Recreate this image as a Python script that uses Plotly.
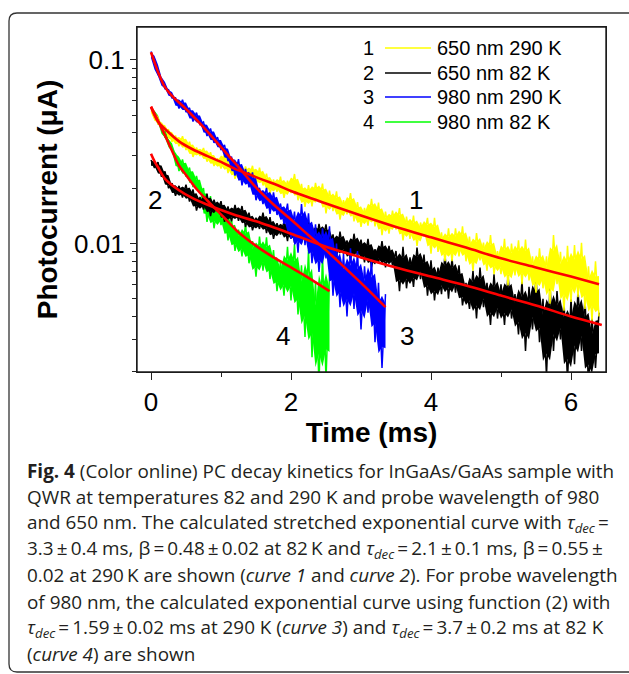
import numpy as np
import plotly.graph_objects as go

# ---------------- data ----------------
DT = 0.05

names = ["650 nm 290 K", "650 nm 82 K", "980 nm 290 K", "980 nm 82 K"]
numbers = ["1", "2", "3", "4"]
colors = ["#FFFF00", "#000000", "#0000FF", "#00FF00"]

pc_650_290 = [0.053, 0.0511, 0.0448, 0.0452, 0.0413, 0.0417, 0.0357, 0.0387, 0.0338, 0.0384, 0.0323, 0.0358, 0.0296, 0.0333, 0.0300, 0.0331, 0.0279, 0.0314, 0.0264, 0.0291,
              0.0256, 0.0312, 0.0242, 0.0290, 0.0225, 0.0269, 0.0215, 0.0263, 0.0228, 0.0265, 0.0206, 0.0259, 0.0207, 0.0240, 0.0187, 0.0223, 0.0191, 0.0231, 0.0177, 0.0220,
              0.0188, 0.0239, 0.0172, 0.0211, 0.0158, 0.0208, 0.0159, 0.0214, 0.0168, 0.0212, 0.0146, 0.0194, 0.0150, 0.0192, 0.0135, 0.0172, 0.0144, 0.0188, 0.0132, 0.0168,
              0.0123, 0.0156, 0.0125, 0.0175, 0.0124, 0.0167, 0.0111, 0.0149, 0.0113, 0.0151, 0.0119, 0.0156, 0.0104, 0.0140, 0.0106, 0.0142, 0.0097, 0.0130, 0.0109, 0.0138,
              0.0088, 0.0138, 0.0090, 0.0115, 0.0080, 0.0121, 0.0080, 0.0121, 0.0085, 0.0124, 0.0080, 0.0109, 0.0071, 0.0114, 0.0081, 0.0101, 0.0071, 0.0111, 0.0068, 0.0091,
              0.0068, 0.0106, 0.0059, 0.0100, 0.0067, 0.0104, 0.0060, 0.0105, 0.0063, 0.0085, 0.0054, 0.0094, 0.0057, 0.0085, 0.0047, 0.0111, 0.0060, 0.0090, 0.0043, 0.0097,
              0.0048, 0.0098, 0.0051, 0.0101, 0.0044, 0.0075, 0.0038, 0.0080, 0.0040]

pc_650_82 = [0.0285, 0.0258, 0.0277, 0.0231, 0.0247, 0.0200, 0.0213, 0.0182, 0.0206, 0.0178, 0.0209, 0.0169, 0.0197, 0.0151, 0.0179, 0.0153, 0.0187, 0.0141, 0.0173, 0.0149,
             0.0170, 0.0131, 0.0159, 0.0132, 0.0162, 0.0133, 0.0160, 0.0123, 0.0147, 0.0118, 0.0138, 0.0120, 0.0147, 0.0114, 0.0139, 0.0106, 0.0129, 0.0112, 0.0131, 0.0103,
             0.0141, 0.0101, 0.0129, 0.0100, 0.0140, 0.0104, 0.0126, 0.0096, 0.0128, 0.0102, 0.0127, 0.0092, 0.0112, 0.0084, 0.0116, 0.0088, 0.0104, 0.0081, 0.0113, 0.0085,
             0.0105, 0.0079, 0.0106, 0.0074, 0.0093, 0.0078, 0.0103, 0.0074, 0.0097, 0.0076, 0.0091, 0.0055, 0.0096, 0.0057, 0.0084, 0.0058, 0.0095, 0.0064, 0.0087, 0.0052,
             0.0081, 0.0049, 0.0074, 0.0053, 0.0087, 0.0050, 0.0083, 0.0054, 0.0076, 0.0046, 0.0061, 0.0044, 0.0071, 0.0039, 0.0074, 0.0045, 0.0061, 0.0036, 0.0068, 0.0039,
             0.0060, 0.0036, 0.0067, 0.0039, 0.0053, 0.0032, 0.0063, 0.0026, 0.0058, 0.0034, 0.0066, 0.0029, 0.0050, 0.0019, 0.0059, 0.0026, 0.0055, 0.0030, 0.0048, 0.0018,
             0.0050, 0.0022, 0.0056, 0.0026, 0.0050, 0.0017, 0.0039, 0.0021, 0.0042]

pc_980_290 = [0.111, 0.0993, 0.0833, 0.0783, 0.0695, 0.0688, 0.0620, 0.0621, 0.0543, 0.0606, 0.0519, 0.0548, 0.0462, 0.0516, 0.0445, 0.0459, 0.0385, 0.0423, 0.0353, 0.0379,
              0.0323, 0.0344, 0.0281, 0.0297, 0.0234, 0.0288, 0.0207, 0.0255, 0.0202, 0.0244, 0.0172, 0.0201, 0.0164, 0.0201, 0.0145, 0.0190, 0.0143, 0.0165, 0.0128, 0.0165,
              0.0106, 0.0149, 0.0089, 0.0164, 0.0098, 0.0146, 0.0078, 0.0127, 0.0070, 0.0121, 0.0083, 0.0124, 0.0052, 0.0100, 0.0045, 0.0088, 0.0040, 0.0094, 0.0044, 0.0091,
              0.0034, 0.0075, 0.0042, 0.0082, 0.0029, 0.0061, 0.0021, 0.0053]

pc_980_82 = [0.0545, 0.0520, 0.0449, 0.0448, 0.0379, 0.0365, 0.0322, 0.0309, 0.0248, 0.0287, 0.0231, 0.0259, 0.0203, 0.0233, 0.0189, 0.0200, 0.0131, 0.0181, 0.0121, 0.0159,
             0.0126, 0.0158, 0.0104, 0.0136, 0.0091, 0.0119, 0.0085, 0.0128, 0.0078, 0.0103, 0.0066, 0.0109, 0.0071, 0.0108, 0.0064, 0.0092, 0.0055, 0.0080, 0.0052, 0.0096,
             0.0049, 0.0099, 0.0041, 0.0076, 0.0031, 0.0092, 0.0024, 0.0062, 0.0017, 0.0088, 0.0018, 0.0068]

# fitted curves (red)
fit1_t = [0, 0.05, 0.1, 0.2, 0.4, 0.6, 0.8, 1.0, 1.2, 1.4, 1.6, 1.8, 2.0, 2.5, 3.0, 3.5, 4.0, 4.5, 5.0, 5.5, 6.0, 6.4]
fit1_v = [0.0556, 0.050, 0.046, 0.042, 0.036, 0.0325, 0.030, 0.0278, 0.0255, 0.0238, 0.0222, 0.0208, 0.0193, 0.0165, 0.0142, 0.0123, 0.0108, 0.0095, 0.0083, 0.0074, 0.0066, 0.0060]
fit2_t = [0, 0.05, 0.1, 0.2, 0.4, 0.6, 0.8, 1.0, 1.2, 1.5, 2.0, 2.5, 3.0, 3.5, 4.0, 4.5, 5.0, 5.5, 6.0, 6.44]
fit2_v = [0.0308, 0.028, 0.026, 0.0225, 0.0195, 0.0176, 0.0163, 0.0152, 0.0143, 0.0132, 0.0113, 0.0096, 0.0084, 0.0074, 0.0066, 0.0059, 0.0052, 0.0046, 0.0040, 0.0036]
fit3_t = [0, 0.05, 0.1, 0.2, 0.3, 0.5, 0.75, 1.0, 1.25, 1.5, 1.75, 2.0, 2.25, 2.5, 2.75, 3.0, 3.35]
fit3_v = [0.110, 0.097, 0.086, 0.071, 0.0637, 0.054, 0.0430, 0.0335, 0.0261, 0.0202, 0.0163, 0.0135, 0.0111, 0.0092, 0.0075, 0.0061, 0.0045]
fit4_t = [0, 0.1, 0.2, 0.3, 0.4, 0.5, 0.65, 0.8, 1.0, 1.25, 1.5, 1.75, 2.0, 2.25, 2.55]
fit4_v = [0.0556, 0.0466, 0.0388, 0.032, 0.0266, 0.0236, 0.0198, 0.0172, 0.0144, 0.0115, 0.0097, 0.0084, 0.0074, 0.0065, 0.0055]

# curve-number labels inside the plot (time, photocurrent)
label_t = [3.79, 0.06, 3.66, 1.89]
label_v = [0.0173, 0.0172, 0.00313, 0.00313]

caption_lines = [
    "<b>Fig. 4</b> (Color online) PC decay kinetics for InGaAs/GaAs sample with",
    "QWR at temperatures 82 and 290 K and probe wavelength of 980",
    "and 650 nm. The calculated stretched exponential curve with <i>τ<sub>dec</sub></i>\u2009=",
    "3.3\u2009±\u20090.4 ms, β\u2009=\u20090.48\u2009±\u20090.02 at 82\u2009K and <i>τ<sub>dec</sub></i>\u2009=\u20092.1\u2009±\u20090.1 ms, β\u2009=\u20090.55\u2009±",
    "0.02 at 290\u2009K are shown (<i>curve 1</i> and <i>curve 2</i>). For probe wavelength",
    "of 980 nm, the calculated exponential curve using function (2) with",
    "<i>τ<sub>dec</sub></i>\u2009=\u20091.59\u2009±\u20090.02 ms at 290 K (<i>curve 3</i>) and <i>τ<sub>dec</sub></i>\u2009=\u20093.7\u2009±\u20090.2 ms at 82 K",
    "(<i>curve 4</i>) are shown",
]

# ---------------- layout geometry ----------------
W, H = 629, 674
ML, MR, MT, MB = 137, 23, 27, 302
PW, PH = W - ML - MR, H - MT - MB


def px(x):
    return (x - ML) / PW


def py(y):
    return (H - MB - y) / PH


ARIAL = "Liberation Sans, Arial, sans-serif"
fig = go.Figure()


def noise_core(t, v, frac=0.6):
    """Solid core of a noisy trace: band around the local (3-point) geometric mean,
    covering `frac` of the local peak-to-trough spread (in log space)."""
    lv = np.log10(np.asarray(v))
    p = np.r_[lv[0], lv, lv[-1]]
    win = np.vstack([p[:-2], p[1:-1], p[2:]])
    c = win.mean(axis=0)
    hi = c + frac * (win.max(axis=0) - c)
    lo = c + frac * (win.min(axis=0) - c)
    bx = np.r_[t, t[::-1]]
    by = 10 ** np.r_[hi, lo[::-1]]
    return bx, by


series = [pc_650_290, pc_650_82, pc_980_290, pc_980_82]
draw_order = [3, 1, 0, 2]
for i in draw_order:
    vals = series[i]
    t = np.round(np.arange(len(vals)) * DT, 2)
    bx, by = noise_core(t, vals)
    fig.add_trace(go.Scatter(x=bx, y=by, mode="lines", fill="toself", fillcolor=colors[i],
                             line=dict(color=colors[i], width=0), showlegend=False, hoverinfo="skip"))
    fig.add_trace(go.Scatter(x=t, y=vals, mode="lines", name=names[i],
                             line=dict(color=colors[i], width=1.5), showlegend=False))

for ft, fv in [(fit1_t, fit1_v), (fit2_t, fit2_v), (fit3_t, fit3_v), (fit4_t, fit4_v)]:
    fig.add_trace(go.Scatter(x=ft, y=fv, mode="lines", line=dict(color="#FF0000", width=2.6, shape="spline", smoothing=0.8),
                             showlegend=False, hoverinfo="skip"))

annotations = []
for n, tt, vv in zip(numbers, label_t, label_v):
    annotations.append(dict(x=tt, y=np.log10(vv), xref="x", yref="y", text=n, showarrow=False,
                            font=dict(family=ARIAL, size=26, color="black")))

# manual legend: number, line sample, label
shapes = []
leg_rows = [48, 73, 97, 122]
for n, name, c, ry in zip(numbers, names, colors, leg_rows):
    annotations.append(dict(x=px(368), y=py(ry), xref="paper", yref="paper", text=n, showarrow=False,
                            xanchor="center", yanchor="middle", font=dict(family=ARIAL, size=20, color="black")))
    shapes.append(dict(type="line", xref="paper", yref="paper", x0=px(385), x1=px(431), y0=py(ry), y1=py(ry),
                       line=dict(color=c, width=1.6)))
    annotations.append(dict(x=px(435), y=py(ry), xref="paper", yref="paper", text=name, showarrow=False,
                            xanchor="left", yanchor="middle", font=dict(family=ARIAL, size=20, color="black")))

# caption
for k, line in enumerate(caption_lines):
    base = 477 + k * 26.1
    annotations.append(dict(x=px(25), y=py(base - 6), xref="paper", yref="paper", text=line, showarrow=False,
                            xanchor="left", yanchor="middle", align="left",
                            font=dict(family="Open Sans, sans-serif", size=18.9, color="#231f20")))

# plot frame (four sides)
for x0, y0, x1, y1 in [(0, 1, 1, 1), (1, 0, 1, 1), (0, 0, 1, 0), (0, 0, 0, 1)]:
    shapes.append(dict(type="line", xref="paper", yref="paper", x0=x0, y0=y0, x1=x1, y1=y1,
                       line=dict(color="#1a1a1a", width=1.4), layer="above"))

# outer rounded frame
L, T, R, B, r = 9, 13, 660, 672, 8
path = (f"M {px(R)} {py(T)} L {px(L + r)} {py(T)} Q {px(L)} {py(T)} {px(L)} {py(T + r)} "
        f"L {px(L)} {py(B - r)} Q {px(L)} {py(B)} {px(L + r)} {py(B)} L {px(R)} {py(B)}")
shapes.append(dict(type="path", xref="paper", yref="paper", path=path, line=dict(color="#333333", width=1.3)))

minor_y = [m * 10.0 ** e for e in (-3, -2) for m in range(2, 10)]

fig.update_layout(
    width=W, height=H,
    margin=dict(l=ML, r=MR, t=MT, b=MB),
    paper_bgcolor="white", plot_bgcolor="white",
    annotations=annotations, shapes=shapes,
    showlegend=False,
    xaxis=dict(range=[-0.2, 6.5], tickvals=[0, 2, 4, 6], ticks="outside", ticklen=7, tickwidth=1.3,
               tickcolor="#222", showline=True, linecolor="#222", linewidth=1.3, mirror=True,
               showgrid=False, zeroline=False,
               tickfont=dict(family=ARIAL, size=26, color="black"),
               minor=dict(tickvals=[1, 3, 5], ticks="outside", ticklen=4, tickwidth=1.2, tickcolor="#222"),
               title=dict(text="<b>Time (ms)</b>", font=dict(family=ARIAL, size=28, color="black"), standoff=6)),
    yaxis=dict(type="log", range=[-2.70, -0.821], tickvals=[0.01, 0.1], ticktext=["0.01", "0.1"],
               ticks="outside", ticklen=6, tickwidth=1.3, tickcolor="#222",
               showline=True, linecolor="#222", linewidth=1.3, mirror=True,
               showgrid=False, zeroline=False,
               tickfont=dict(family=ARIAL, size=26, color="black"),
               minor=dict(tickvals=minor_y, ticks="outside", ticklen=4, tickwidth=1.2, tickcolor="#222"),
               title=dict(text="<b>Photocurrent (μA)</b>", font=dict(family=ARIAL, size=28, color="black"), standoff=8)),
)

fig.write_html("out.html", config={"displayModeBar": False},
               post_script="document.body.style.margin='0';document.body.style.overflow='hidden';")
